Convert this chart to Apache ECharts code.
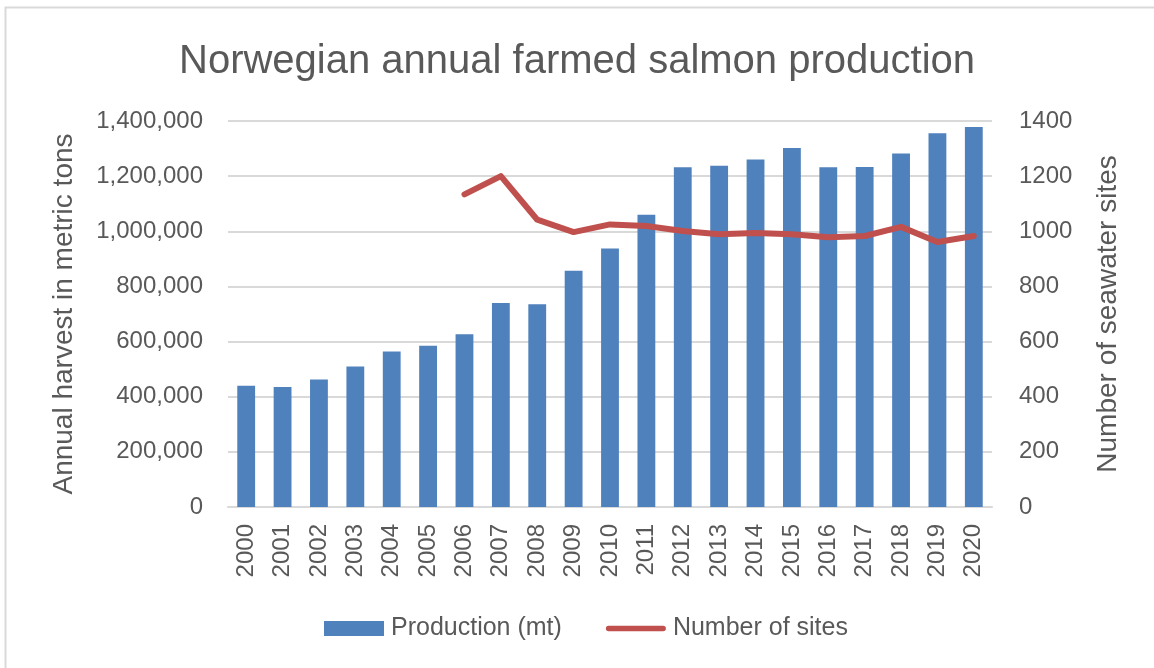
<!DOCTYPE html>
<html>
<head>
<meta charset="utf-8">
<script src="https://cdn.jsdelivr.net/npm/echarts@6/dist/echarts.min.js"></script>
<style>
  html, body { margin: 0; padding: 0; background: #fff; }
  #main { width: 1154px; height: 668px; }
</style>
</head>
<body>
<div id="main"></div>
<script>
var years = ['2000','2001','2002','2003','2004','2005','2006','2007','2008','2009','2010',
             '2011','2012','2013','2014','2015','2016','2017','2018','2019','2020'];
var production = [440000, 435000, 462000, 510000, 564000, 585000, 627000, 740000, 735000, 857000, 938000,
                  1060000, 1232000, 1238000, 1260000, 1302000, 1232000, 1233000, 1282000, 1356000, 1378000];
var sites = [null, null, null, null, null, null, 1134, 1200, 1042, 997, 1025,
             1019, 1001, 989, 994, 989, 978, 983, 1016, 961, 983];

var txt = '#595959';
var font = 'Liberation Sans';

var myChart = echarts.init(document.getElementById('main'));

var option = {
    animation: false,
    backgroundColor: '#fff',
    title: {
        text: 'Norwegian annual farmed salmon production',
        left: 'center',
        top: 37,
        textStyle: { color: txt, fontFamily: font, fontWeight: 'normal', fontSize: 40 }
    },
    graphic: [{
        type: 'rect',
        shape: { x: 5.5, y: 7.5, width: 1200, height: 700 },
        style: { fill: 'none', stroke: '#D9D9D9', lineWidth: 2 },
        silent: true
    }],
    legend: {
        top: 611,
        left: 319,
        itemWidth: 60,
        itemHeight: 15,
        itemGap: 44,
        textStyle: { color: txt, fontFamily: font, fontSize: 25, padding: [0, 0, 0, 2] },
        data: [
            { name: 'Production (mt)', icon: 'rect' },
            { name: 'Number of sites', icon: 'path://M3,0 L63,0 A3,3 0 0 1 63,6 L3,6 A3,3 0 0 1 3,0 Z' }
        ]
    },
    grid: { left: 228, right: 162, top: 121, bottom: 161 },
    xAxis: {
        type: 'category',
        data: years,
        axisLine: { lineStyle: { color: '#D9D9D9', width: 2 } },
        axisTick: { show: false },
        axisLabel: { rotate: 90, margin: 17, color: txt, fontFamily: font, fontSize: 24 }
    },
    yAxis: [{
        type: 'value',
        min: 0, max: 1400000, interval: 200000,
        name: 'Annual harvest in metric tons',
        nameLocation: 'middle',
        nameGap: 150,
        nameTextStyle: { color: txt, fontFamily: font, fontSize: 28 },
        axisLine: { show: false },
        axisTick: { show: false },
        splitLine: { lineStyle: { color: '#D9D9D9', width: 2 } },
        axisLabel: {
            margin: 25, color: txt, fontFamily: font, fontSize: 24,
            formatter: function (v) { return v.toLocaleString('en-US'); }
        }
    }, {
        type: 'value',
        min: 0, max: 1400, interval: 200,
        name: 'Number of seawater sites',
        nameLocation: 'middle',
        nameGap: 102,
        nameTextStyle: { color: txt, fontFamily: font, fontSize: 28 },
        axisLine: { show: false },
        axisTick: { show: false },
        splitLine: { show: false },
        axisLabel: {
            margin: 27, color: txt, fontFamily: font, fontSize: 24,
            formatter: function (v) { return String(v); }
        }
    }],
    series: [{
        name: 'Production (mt)',
        type: 'bar',
        barWidth: '49%',
        itemStyle: { color: '#4F81BD' },
        data: production
    }, {
        name: 'Number of sites',
        type: 'line',
        yAxisIndex: 1,
        symbol: 'none',
        lineStyle: { color: '#C0504D', width: 6, cap: 'round', join: 'round' },
        itemStyle: { color: '#C0504D' },
        data: sites
    }]
};

myChart.setOption(option);
window.onresize = function () {
    myChart.resize();
};
</script>
</body>
</html>
